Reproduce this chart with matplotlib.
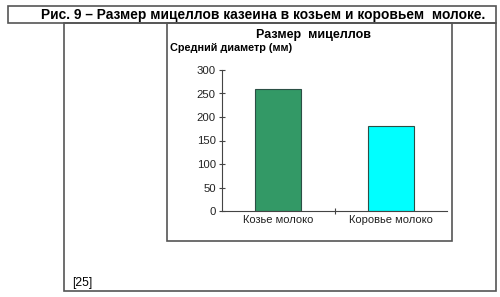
import matplotlib.pyplot as plt
from matplotlib.patches import Rectangle

plt.rcParams['font.family'] = ['Liberation Sans', 'DejaVu Sans']

categories = ["Козье молоко", "Коровье молоко"]
values = [260, 180]
colors = ["#339966", "#00FFFF"]
yticks = [0, 50, 100, 150, 200, 250, 300]

W, H = 500, 297
fig = plt.figure(figsize=(5, 2.97), dpi=100)


def box(x0, y0, x1, y1):
    fig.add_artist(Rectangle((x0 / W, 1 - y1 / H), (x1 - x0) / W, (y1 - y0) / H,
                             transform=fig.transFigure, fill=False,
                             edgecolor="#555555", linewidth=1.2))


box(8, 6, 496, 23)
box(64, 23, 496, 291)
box(167, 23, 452, 241)

fig.text(263 / W, 1 - 14.5 / H, "Рис. 9 – Размер мицеллов казеина в козьем и коровьем  молоке.",
         ha="center", va="center", fontsize=9.9, fontweight="bold")
fig.text(313 / W, 1 - 35 / H, "Размер  мицеллов", ha="center", va="center",
         fontsize=9, fontweight="bold")
fig.text(170 / W, 1 - 48 / H, "Средний диаметр (мм)", ha="left", va="center",
         fontsize=7.8, fontweight="bold")
fig.text(72 / W, 1 - 283 / H, "[25]", ha="left", va="center", fontsize=8.8)

ax = fig.add_axes([222 / W, 1 - 211 / H, (447 - 222) / W, (211 - 70) / H])
x = range(len(categories))
ax.bar(x, values, width=0.41, color=colors, edgecolor="#2b4f45", linewidth=0.8)
ax.set_xlim(-0.5, len(categories) - 0.5)
ax.set_ylim(0, 300)
ax.set_yticks(yticks)
ax.set_xticks(list(x))
ax.set_xticklabels(categories)
ax.set_xticks([0.5], minor=True)
for s in ["top", "right"]:
    ax.spines[s].set_visible(False)
for s in ["left", "bottom"]:
    ax.spines[s].set_color("#444444")
    ax.spines[s].set_linewidth(0.8)
ax.tick_params(axis="y", direction="inout", length=5, width=0.8, labelsize=8.2, pad=2,
               color="#444444", labelcolor="#222222")
ax.tick_params(axis="x", which="major", length=0, labelsize=8, pad=3, labelcolor="#222222")
ax.tick_params(axis="x", which="minor", direction="inout", length=5, width=0.8, color="#444444")

fig.savefig("out.png", dpi=100)
